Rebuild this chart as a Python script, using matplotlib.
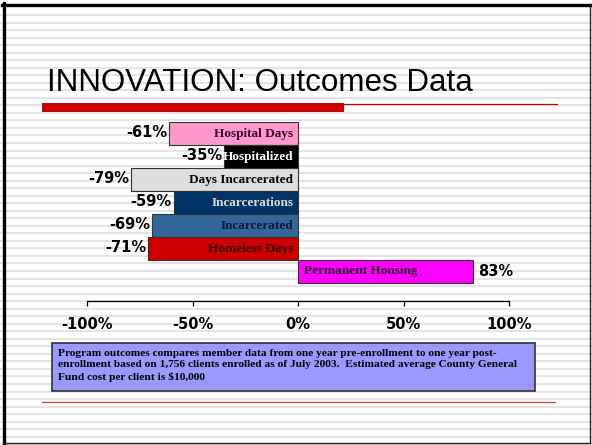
import numpy as np
import matplotlib.pyplot as plt
from matplotlib.patches import Rectangle

# ============================================================
# DATA
# ============================================================

categories = ["Hospital Days", "Hospitalized", "Days Incarcerated", "Incarcerations",
              "Incarcerated", "Homeless Days", "Permanent Housing"]
changes = [-61, -35, -79, -59, -69, -71, 83]
bar_colors = ["#FF99CC", "#000000", "#DDDDDD", "#003366", "#336699", "#CC0000", "#FF00FF"]
label_colors = ["#330033", "#FFFFFF", "#000000", "#DDDDDD", "#0A1A33", "#330000", "#330033"]

tick_values = [-100, -50, 0, 50, 100]
tick_labels = ["-100%", "-50%", "0%", "50%", "100%"]

title = "INNOVATION: Outcomes Data"
note = ("Program outcomes compares member data from one year pre-enrollment to one year post-\n"
        "enrollment based on 1,756 clients enrolled as of July 2003.  Estimated average County General\n"
        "Fund cost per client is $10,000")

W, H = 592, 445

# ============================================================
# SLIDE BACKGROUND
# ============================================================

fig = plt.figure(figsize=(W / 100, H / 100), dpi=100)
bg = fig.add_axes([0, 0, 1, 1])
bg.set_xlim(0, W)
bg.set_ylim(H, 0)
bg.axis("off")

# lined-paper stripes
for y in np.arange(15, H, 7.53):
    bg.axhline(y, color="#E4E4E4", lw=1.4, zorder=0)

# slide frame
bg.plot([3.5, 3.5], [3, 443], color="black", lw=2.4, zorder=5)
bg.plot([2, 590], [4.5, 4.5], color="black", lw=2.4, zorder=5)
bg.plot([590, 590], [4, 443], color="#222222", lw=1.0, zorder=5)
bg.plot([3, 590], [443, 443], color="#222222", lw=1.0, zorder=5)

# title and rules
bg.text(47, 91, title, fontsize=22.6, family="Liberation Sans", va="baseline", ha="left")
bg.add_patch(Rectangle((42, 103), 302, 9, color="#CC0000", lw=0, zorder=2))
bg.plot([344, 557], [103.5, 103.5], color="#CC0000", lw=0.9, zorder=2)
bg.plot([42, 555], [402, 402], color="#E03C3C", lw=0.9, zorder=2)

# note box
bg.add_patch(Rectangle((52, 343), 483, 48, facecolor="#9999FF", edgecolor="#333333",
                       lw=1.2, zorder=3))
bg.text(58, 348.5, note, fontsize=8.2, family="Liberation Serif", fontweight="bold",
        va="top", ha="left", linespacing=1.38, zorder=4)

# ============================================================
# BAR CHART
# ============================================================

ax = fig.add_axes([87 / W, 1 - 301 / H, (509 - 87) / W, (301 - 122) / H])
ax.patch.set_alpha(0)

ypos = np.arange(len(categories))
ax.barh(ypos, changes, height=1.0, color=bar_colors, edgecolor="#333333", linewidth=0.8)

ax.set_xlim(-100, 100)
ax.set_ylim(len(categories) - 0.5 + 0.78, -0.5)

for i, (v, name) in enumerate(zip(changes, categories)):
    if v < 0:
        ax.annotate(f"{v}%", (v, i), xytext=(-1.5, 0.5), textcoords="offset points",
                    ha="right", va="center", fontsize=10.5, fontweight="bold",
                    family="DejaVu Sans")
        ax.annotate(name, (0, i), xytext=(-3.5, -0.5), textcoords="offset points",
                    ha="right", va="center", fontsize=9.5, fontweight="bold",
                    family="Liberation Serif", color=label_colors[i])
    else:
        ax.annotate(f"{v}%", (v, i), xytext=(3.5, 0), textcoords="offset points",
                    ha="left", va="center", fontsize=10.5, fontweight="bold",
                    family="DejaVu Sans")
        ax.annotate(name, (0, i), xytext=(4.5, 0.5), textcoords="offset points",
                    ha="left", va="center", fontsize=9.5, fontweight="bold",
                    family="Liberation Serif", color=label_colors[i])

for side in ["top", "left", "right"]:
    ax.spines[side].set_visible(False)
ax.spines["bottom"].set_linewidth(0.9)
ax.set_yticks([])
ax.set_xticks(tick_values)
ax.set_xticklabels(tick_labels, fontsize=10.5, fontweight="bold", family="DejaVu Sans")
ax.tick_params(axis="x", direction="out", length=3.5, width=0.9, pad=8)

plt.savefig("out.png", dpi=100)
